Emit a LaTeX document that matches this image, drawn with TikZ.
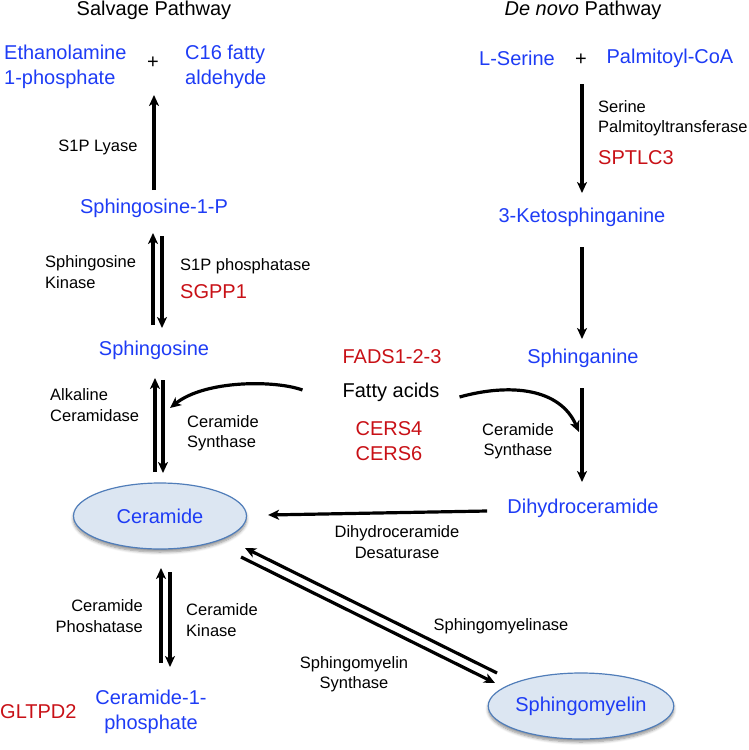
\documentclass[tikz,border=0pt]{standalone}
\usepackage{fontspec}
\setmainfont{Liberation Sans}
\usetikzlibrary{arrows.meta,calc,shapes.geometric,shadows.blur}
\definecolor{molblue}{RGB}{30,60,245}
\definecolor{genered}{RGB}{200,16,22}
\definecolor{ellfill}{RGB}{220,230,242}
\definecolor{ellline}{RGB}{80,125,185}
\tikzset{
 mol/.style={text=molblue, font=\fontsize{20}{25}\selectfont, inner sep=0pt},
 enz/.style={text=black, font=\fontsize{16.5}{20.5}\selectfont, inner sep=0pt},
 gene/.style={text=genered, font=\fontsize{20}{25}\selectfont, inner sep=0pt},
 ttl/.style={text=black, font=\fontsize{20}{25}\selectfont, inner sep=0pt},
 arr/.style={line width=3.2pt, -{Stealth[length=11pt,width=10pt,inset=3pt]}},
 ell/.style={ellipse, draw=ellline, line width=1.2pt, fill=ellfill, minimum width=173pt, minimum height=66pt,
   blur shadow={shadow xshift=0pt, shadow yshift=-3pt, shadow blur radius=3pt, shadow blur steps=6, shadow opacity=45}},
}
\begin{document}
\begin{tikzpicture}[x=1pt,y=-1pt]
\useasboundingbox (0,0) rectangle (749,750);
% titles
\node[ttl] (t1) at (154,10) {Salvage Pathway};
\node[ttl] (t2) at (583,10) {\textit{De novo} Pathway};
% salvage top
\node[mol, align=left, anchor=west] (eth) at (4,67) {Ethanolamine\\1-phosphate};
\node[ttl] (plus1) at (153,63) {+};
\node[mol, align=left, anchor=west] (c16) at (185,67) {C16 fatty\\aldehyde};
\node[mol] (s1p) at (154,208) {Sphingosine-1-P};
\node[enz] (lyase) at (98,147) {S1P Lyase};
\draw[arr] ($(s1p)+(0,-18)$) -- ($(plus1)+(1,32)$);
% sphingosine
\node[mol] (sph) at (154,350) {Sphingosine};
\node[enz, align=left, anchor=west] (sk) at (45,272) {Sphingosine\\Kinase};
\node[enz, anchor=west] (s1pp) at (180,266) {S1P phosphatase};
\node[gene, anchor=west] (sgpp1) at (180,292) {SGPP1};
\draw[arr] ($(sph)+(-1,-25)$) -- ($(s1p)+(-1,25)$);
\draw[arr] ($(s1p)+(8,28)$) -- ($(sph)+(8,-22)$);
% ceramide
\node[ell, mol] (cer) at (160,516) {Ceramide};
\node[enz, align=left, anchor=west] (alk) at (50,405) {Alkaline\\Ceramidase};
\node[enz, align=left, anchor=west] (cs1) at (187,433) {Ceramide\\Synthase};
\draw[arr] ($(cer)+(-5,-44)$) -- ($(sph)+(1,28)$);
\draw[arr] ($(sph)+(9,30)$) -- ($(cer)+(3,-43)$);
% fatty acids
\node[ttl] (fa) at (391,392) {Fatty acids};
\node[gene] (fads) at (392,357) {FADS1-2-3};
\node[gene, align=center] (cers) at (389,441) {CERS4\\CERS6};
\draw[arr] ($(fa.west)+(-40,-2)$) .. controls (275,380) and (205,380) .. ($(sph)+(16,58)$);
% de novo
\node[mol] (lser) at (517,58) {L-Serine};
\node[ttl] (plus2) at (581,60) {+};
\node[mol] (palm) at (670,58) {Palmitoyl-CoA};
\node[mol] (keto) at (582,217) {3-Ketosphinganine};
\node[enz, align=left, anchor=west] (spt) at (598,118) {Serine\\Palmitoyltransferase};
\node[gene, anchor=west] (sptlc3) at (598,158) {SPTLC3};
\draw[arr] ($(plus2)+(1,24)$) -- ($(keto)+(0,-24)$);
\node[mol] (sphn) at (583,358) {Sphinganine};
\draw[arr] ($(keto)+(0,30)$) -- ($(sphn)+(-1,-19)$);
\node[mol] (dhc) at (583,508) {Dihydroceramide};
\draw[arr] ($(sphn)+(-1,30)$) -- ($(dhc)+(-1,-26)$);
\node[enz, align=center] (cs2) at (518,441) {Ceramide\\Synthase};
\draw[arr] ($(fa.east)+(20,5)$) .. controls (510,383) and (560,388) .. ($(sphn)+(-4,74)$);
% dihydroceramide -> ceramide
\draw[arr] ($(dhc.west)+(-20,3)$) -- ($(cer.east)+(21,-1)$);
\node[enz, align=center] (dhd) at (397,542) {Dihydroceramide\\Desaturase};
% sphingomyelin
\node[ell, mol] (sm) at (581,706) {Sphingomyelin};
\draw[arr] ($(sm)+(-84,-33)$) -- ($(cer)+(85,32)$);
\draw[arr] ($(cer)+(81,41)$) -- ($(sm)+(-86,-23)$);
\node[enz] (smase) at (501,626) {Sphingomyelinase};
\node[enz, align=center] (sms) at (354,674) {Sphingomyelin\\Synthase};
% ceramide-1-phosphate
\node[mol, align=center] (c1p) at (151,712) {Ceramide-1-\\phosphate};
\draw[arr] ($(c1p)+(10,-49)$) -- ($(cer)+(1,52)$);
\draw[arr] ($(cer)+(10,56)$) -- ($(c1p)+(19,-45)$);
\node[enz, align=right, anchor=east] (cp) at (143,616) {Ceramide\\Phoshatase};
\node[enz, align=left, anchor=west] (ck) at (186,620) {Ceramide\\Kinase};
\node[gene, anchor=west] (gltpd2) at (0,712) {GLTPD2};
\end{tikzpicture}
\end{document}
